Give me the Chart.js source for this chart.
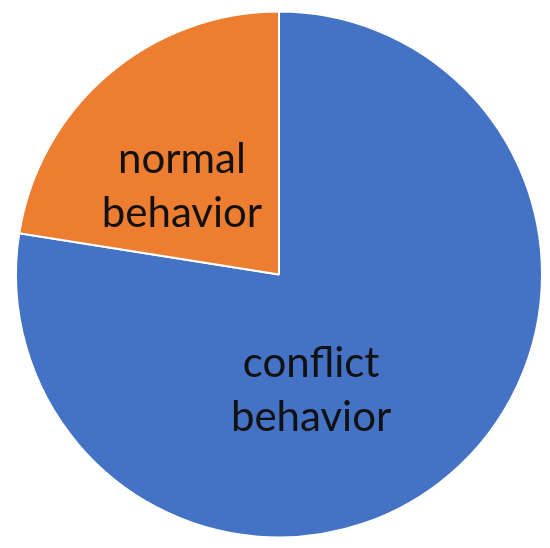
<!DOCTYPE html>
<html>
<head>
<meta charset="utf-8">
<script src="https://cdn.jsdelivr.net/npm/chart.js@4/dist/chart.umd.min.js"></script>
<style>
  html, body { margin: 0; padding: 0; background: #fff; }
  #wrap { width: 550px; height: 548px; }
</style>
</head>
<body>
<div id="wrap"><canvas id="myChart" width="550" height="548"></canvas></div>
<script>
// slices, clockwise from 12 o'clock
var labels = ['conflict behavior', 'normal behavior'];
var values = [77.5, 22.5];
var colors = ['#4472C4', '#ED7D31'];

// where each label sits, as fraction of radius from centre
var labelPos = [[0.122, 0.44], [-0.369, -0.335]];

var sliceLabels = {
  id: 'sliceLabels',
  afterDatasetsDraw: function(chart) {
    var ctx = chart.ctx;
    var arcs = chart.getDatasetMeta(0).data;
    ctx.save();
    ctx.fillStyle = '#111';
    ctx.font = '42px Lato, "Open Sans", sans-serif';
    ctx.textAlign = 'center';
    ctx.textBaseline = 'middle';
    arcs.forEach(function(arc, i) {
      var r = arc.outerRadius;
      var x = arc.x + labelPos[i][0] * r;
      var y = arc.y + labelPos[i][1] * r;
      var lines = labels[i].split(' ');
      ctx.fillText(lines[0], x, y - 27);
      ctx.fillText(lines[1], x, y + 27);
    });
    ctx.restore();
  }
};

var ctx = document.getElementById('myChart').getContext('2d');
var myChart = new Chart(ctx, {
  type: 'pie',
  data: {
    labels: labels,
    datasets: [{
      data: values,
      backgroundColor: colors,
      borderColor: '#fff',
      borderWidth: 2
    }]
  },
  options: {
    responsive: false,
    animation: false,
    layout: { padding: { left: 15, right: 7, top: 10, bottom: 9 } },
    plugins: {
      legend: { display: false },
      tooltip: { enabled: false }
    }
  },
  plugins: [sliceLabels]
});
</script>
</body>
</html>
